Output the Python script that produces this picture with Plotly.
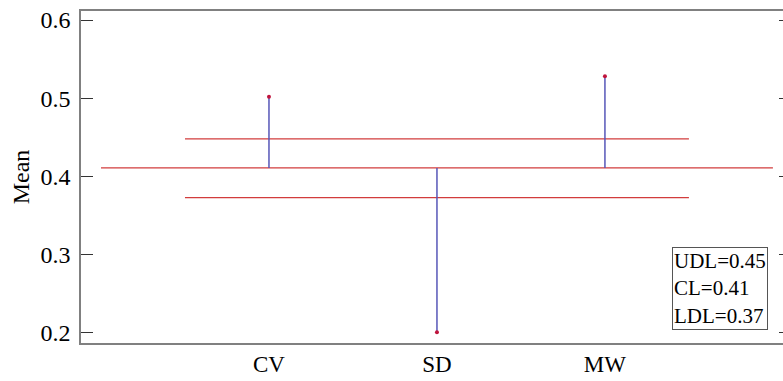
import plotly.graph_objects as go

categories = ["CV", "SD", "MW"]
positions = [1, 2, 3]
means = [0.502, 0.201, 0.528]
UDL = 0.448
CL = 0.411
LDL = 0.373
cl_span = [0, 4]
dl_span = [0.5, 3.5]
y_ticks = [0.2, 0.3, 0.4, 0.5, 0.6]
box_lines = ["UDL=0.45", "CL=0.41", "LDL=0.37"]

FONT = "Liberation Serif"
RED = "#d23c3c"
BLUE = "#5656b8"

fig = go.Figure()

# control lines
fig.add_trace(go.Scatter(x=cl_span, y=[CL, CL], mode="lines",
                         line=dict(color=RED, width=1.3), hoverinfo="skip"))
fig.add_trace(go.Scatter(x=dl_span, y=[UDL, UDL], mode="lines",
                         line=dict(color=RED, width=1.3), hoverinfo="skip"))
fig.add_trace(go.Scatter(x=dl_span, y=[LDL, LDL], mode="lines",
                         line=dict(color=RED, width=1.3), hoverinfo="skip"))

# stems
sx, sy = [], []
for p, m in zip(positions, means):
    sx += [p, p, None]
    sy += [CL, m, None]
fig.add_trace(go.Scatter(x=sx, y=sy, mode="lines",
                         line=dict(color=BLUE, width=1.5), hoverinfo="skip"))
fig.add_trace(go.Scatter(x=positions, y=means, mode="markers",
                         marker=dict(color="#c0143c", size=4)))

# right-side ticks (mirror-like)
fig.add_trace(go.Scatter(x=[None], y=[None], yaxis="y2", showlegend=False))

fig.update_layout(
    width=783, height=381,
    margin=dict(l=81, r=0, t=11, b=38),
    paper_bgcolor="white", plot_bgcolor="white",
    showlegend=False,
    font=dict(family=FONT, size=23, color="black"),
    xaxis=dict(range=[-0.119, 4.06], tickvals=positions, ticktext=categories,
               showgrid=False, zeroline=False, showline=True, mirror=True,
               linecolor="#808080", linewidth=1.5, ticks="",
               tickfont=dict(family=FONT, size=23, color="black")),
    yaxis=dict(range=[0.1872, 0.6115], tickvals=y_ticks,
               ticktext=[f"{v:.1f}" for v in y_ticks],
               showgrid=False, zeroline=False, showline=True,
               linecolor="#808080", linewidth=1.5,
               ticks="inside", ticklen=12, tickcolor="#333333", tickwidth=1.3,
               ticklabelstandoff=4,
               title=dict(text="Mean", font=dict(family=FONT, size=24), standoff=4),
               tickfont=dict(family=FONT, size=24, color="black")),
    yaxis2=dict(range=[0.1872, 0.6115], tickvals=y_ticks, overlaying="y",
                side="right", showticklabels=False, showgrid=False,
                zeroline=False, showline=False,
                ticks="inside", ticklen=4, tickcolor="#333333", tickwidth=1.3),
)

# limits box
fig.add_annotation(xref="paper", yref="paper", x=0.9786, y=0.039,
                   text="<br>".join(box_lines), showarrow=False,
                   xanchor="right", yanchor="bottom", align="left",
                   bordercolor="#555555", borderwidth=1, borderpad=1,
                   bgcolor="white",
                   font=dict(family=FONT, size=21, color="black"))

fig.write_html("out.html")
